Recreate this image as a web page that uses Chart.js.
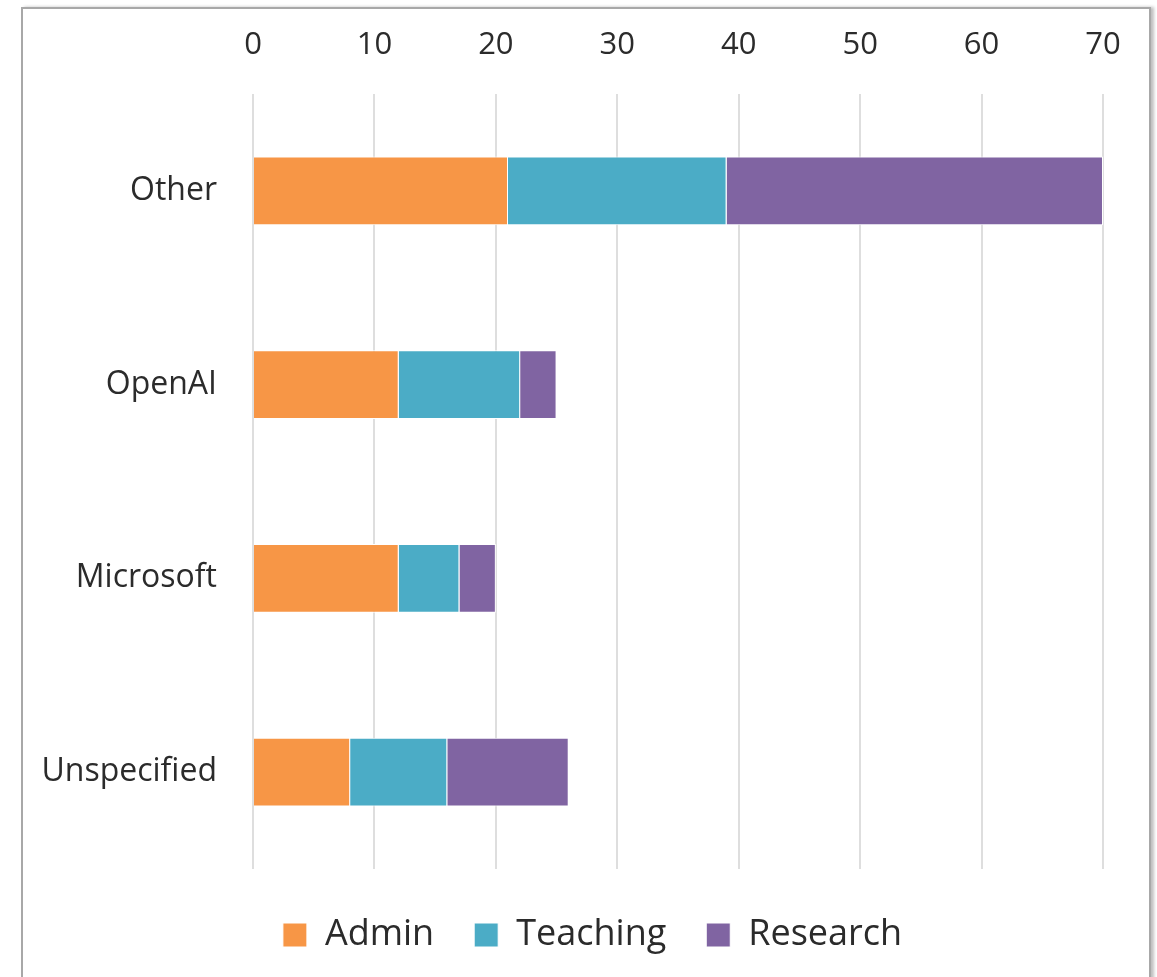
<!DOCTYPE html>
<html>
<head>
<meta charset="utf-8">
<script src="https://cdn.jsdelivr.net/npm/chart.js@4"></script>
<style>
  html, body { margin: 0; padding: 0; background: #fff; overflow: hidden; }
  #frame {
    position: absolute; left: 21px; top: 7px; width: 1126px; height: 990px;
    border: 2px solid #a8a8a8; box-shadow: 3px 0 3px rgba(0,0,0,0.25);
  }
  #myChart { position: absolute; left: 0; top: 0; }
</style>
</head>
<body>
<div id="frame"></div>
<canvas id="myChart" width="1157" height="977"></canvas>
<script>
// Sample data
const categories = ['Other', 'OpenAI', 'Microsoft', 'Unspecified'];
const adminValues = [21, 12, 12, 8];
const teachingValues = [18, 10, 5, 8];
const researchValues = [31, 3, 3, 10];
const xTicks = [0, 10, 20, 30, 40, 50, 60, 70];

const textColor = '#2b2b2b';
const fontFamily = "'Open Sans', 'Noto Sans', sans-serif";

const data = {
    labels: categories,
    datasets: [
        { label: 'Admin', data: adminValues, backgroundColor: '#F79646' },
        { label: 'Teaching', data: teachingValues, backgroundColor: '#4BACC6' },
        { label: 'Research', data: researchValues, backgroundColor: '#8064A2' }
    ].map(d => Object.assign(d, { borderColor: '#ffffff', borderWidth: 1 }))
};

// nudge the legend so it sits centred in the frame like the original
const legendShift = {
    id: 'legendShift',
    afterLayout(chart) {
        const lg = chart.legend;
        lg.left += 31;
        lg.right += 31;
        lg.top += 8;
        lg.bottom += 8;
    }
};

const config = {
    type: 'bar',
    data: data,
    options: {
        indexAxis: 'y',
        responsive: false,
        animation: false,
        datasets: { bar: { categoryPercentage: 1, barPercentage: 0.355 } },
        layout: { padding: { left: 20, right: 54, top: 0, bottom: 22 } },
        scales: {
            x: {
                position: 'top',
                stacked: true,
                min: 0,
                max: 70,
                afterBuildTicks: (scale) => { scale.ticks = xTicks.map(v => ({ value: v })); },
                afterFit: (scale) => { scale.height = 94; },
                grid: { color: '#dedede', lineWidth: 2, drawTicks: false },
                border: { display: false },
                ticks: { padding: 30, color: textColor, font: { family: fontFamily, size: 31 } }
            },
            y: {
                stacked: true,
                afterFit: (scale) => { scale.width = 233; },
                grid: { display: false, drawTicks: false },
                border: { display: false },
                ticks: { padding: 36, color: textColor, font: { family: fontFamily, size: 32 } }
            }
        },
        plugins: {
            tooltip: { enabled: false },
            legend: {
                position: 'bottom',
                labels: {
                    boxWidth: 24,
                    boxHeight: 24,
                    padding: 40,
                    color: textColor,
                    font: { family: fontFamily, size: 36 }
                }
            }
        }
    },
    plugins: [legendShift]
};

// Render the chart
var myChart = new Chart(document.getElementById('myChart'), config);
</script>
</body>
</html>
